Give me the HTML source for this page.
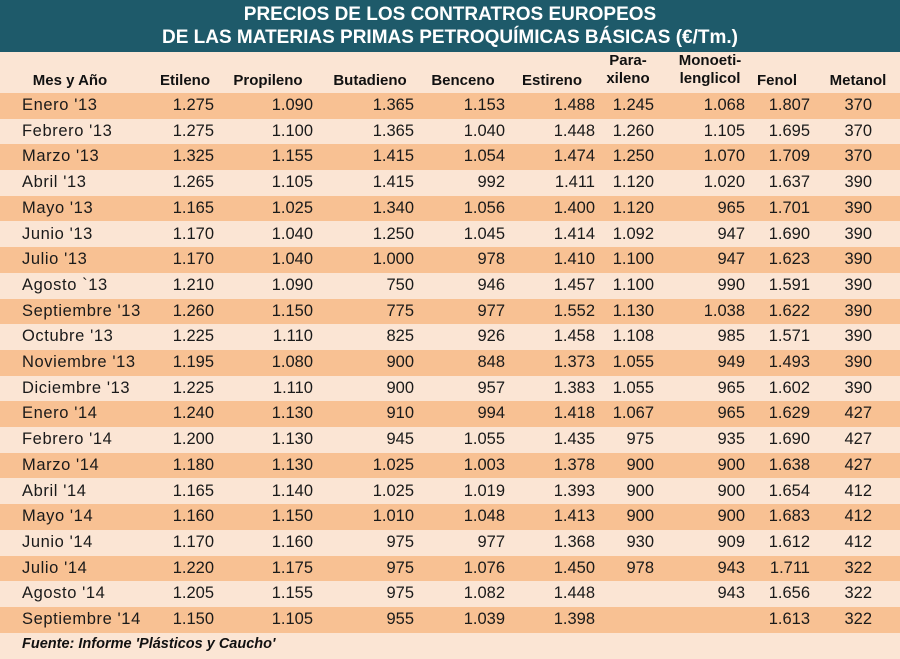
<!DOCTYPE html>
<html><head><meta charset="utf-8"><style>
body{margin:0;width:900px;height:659px;background:#fbe5d4;font-family:"Liberation Sans",sans-serif;position:relative;overflow:hidden}
.t{position:absolute;left:0;top:0;width:900px;height:52px;background:#1e5a6a;color:#fff;font-weight:bold;font-size:19px;text-align:center;line-height:23px;padding-top:3px;box-sizing:border-box}
.h{position:absolute;font-weight:bold;font-size:15px;color:#111;text-align:center;line-height:18px}
.r{position:absolute;left:0;width:900px;height:25.7px;font-size:16.5px;color:#1a1a1a}
.o{background:#f8c193}
.r span{position:absolute;top:3px;text-align:right;width:90px}
.r span.m{left:22px;text-align:left;width:200px;letter-spacing:0.6px}
.a{left:124px}.b{left:223px}.c{left:324px}.d{left:415px}.e{left:505px}.f{left:564px}.g{left:655px}.k{left:720px}.l{left:782px}
.ft{position:absolute;left:22px;top:636px;font-size:14.5px;font-weight:bold;font-style:italic;color:#111}
</style></head><body>
<div class="t">PRECIOS DE LOS CONTRATROS EUROPEOS<br>DE LAS MATERIAS PRIMAS PETROQUÍMICAS BÁSICAS (€/Tm.)</div>
<div class="h" style="left:20px;top:72px;width:100px">Mes y Año</div>
<div class="h" style="left:145px;top:72px;width:80px">Etileno</div>
<div class="h" style="left:228px;top:72px;width:80px">Propileno</div>
<div class="h" style="left:325px;top:72px;width:90px">Butadieno</div>
<div class="h" style="left:423px;top:72px;width:80px">Benceno</div>
<div class="h" style="left:512px;top:72px;width:80px">Estireno</div>
<div class="h" style="left:595px;top:52px;width:66px">Para-<br>xileno</div>
<div class="h" style="left:662px;top:52px;width:96px">Monoeti-<br>lenglicol</div>
<div class="h" style="left:747px;top:72px;width:60px">Fenol</div>
<div class="h" style="left:820px;top:72px;width:76px">Metanol</div>

<div class="r o" style="top:93px"><span class="m">Enero '13</span><span class="a">1.275</span><span class="b">1.090</span><span class="c">1.365</span><span class="d">1.153</span><span class="e">1.488</span><span class="f">1.245</span><span class="g">1.068</span><span class="k">1.807</span><span class="l">370</span></div>
<div class="r" style="top:118.7px"><span class="m">Febrero '13</span><span class="a">1.275</span><span class="b">1.100</span><span class="c">1.365</span><span class="d">1.040</span><span class="e">1.448</span><span class="f">1.260</span><span class="g">1.105</span><span class="k">1.695</span><span class="l">370</span></div>
<div class="r o" style="top:144.4px"><span class="m">Marzo '13</span><span class="a">1.325</span><span class="b">1.155</span><span class="c">1.415</span><span class="d">1.054</span><span class="e">1.474</span><span class="f">1.250</span><span class="g">1.070</span><span class="k">1.709</span><span class="l">370</span></div>
<div class="r" style="top:170.1px"><span class="m">Abril '13</span><span class="a">1.265</span><span class="b">1.105</span><span class="c">1.415</span><span class="d">992</span><span class="e">1.411</span><span class="f">1.120</span><span class="g">1.020</span><span class="k">1.637</span><span class="l">390</span></div>
<div class="r o" style="top:195.8px"><span class="m">Mayo '13</span><span class="a">1.165</span><span class="b">1.025</span><span class="c">1.340</span><span class="d">1.056</span><span class="e">1.400</span><span class="f">1.120</span><span class="g">965</span><span class="k">1.701</span><span class="l">390</span></div>
<div class="r" style="top:221.5px"><span class="m">Junio '13</span><span class="a">1.170</span><span class="b">1.040</span><span class="c">1.250</span><span class="d">1.045</span><span class="e">1.414</span><span class="f">1.092</span><span class="g">947</span><span class="k">1.690</span><span class="l">390</span></div>
<div class="r o" style="top:247.2px"><span class="m">Julio '13</span><span class="a">1.170</span><span class="b">1.040</span><span class="c">1.000</span><span class="d">978</span><span class="e">1.410</span><span class="f">1.100</span><span class="g">947</span><span class="k">1.623</span><span class="l">390</span></div>
<div class="r" style="top:272.9px"><span class="m">Agosto `13</span><span class="a">1.210</span><span class="b">1.090</span><span class="c">750</span><span class="d">946</span><span class="e">1.457</span><span class="f">1.100</span><span class="g">990</span><span class="k">1.591</span><span class="l">390</span></div>
<div class="r o" style="top:298.6px"><span class="m">Septiembre '13</span><span class="a">1.260</span><span class="b">1.150</span><span class="c">775</span><span class="d">977</span><span class="e">1.552</span><span class="f">1.130</span><span class="g">1.038</span><span class="k">1.622</span><span class="l">390</span></div>
<div class="r" style="top:324.3px"><span class="m">Octubre '13</span><span class="a">1.225</span><span class="b">1.110</span><span class="c">825</span><span class="d">926</span><span class="e">1.458</span><span class="f">1.108</span><span class="g">985</span><span class="k">1.571</span><span class="l">390</span></div>
<div class="r o" style="top:350px"><span class="m">Noviembre '13</span><span class="a">1.195</span><span class="b">1.080</span><span class="c">900</span><span class="d">848</span><span class="e">1.373</span><span class="f">1.055</span><span class="g">949</span><span class="k">1.493</span><span class="l">390</span></div>
<div class="r" style="top:375.7px"><span class="m">Diciembre '13</span><span class="a">1.225</span><span class="b">1.110</span><span class="c">900</span><span class="d">957</span><span class="e">1.383</span><span class="f">1.055</span><span class="g">965</span><span class="k">1.602</span><span class="l">390</span></div>
<div class="r o" style="top:401.4px"><span class="m">Enero '14</span><span class="a">1.240</span><span class="b">1.130</span><span class="c">910</span><span class="d">994</span><span class="e">1.418</span><span class="f">1.067</span><span class="g">965</span><span class="k">1.629</span><span class="l">427</span></div>
<div class="r" style="top:427.1px"><span class="m">Febrero '14</span><span class="a">1.200</span><span class="b">1.130</span><span class="c">945</span><span class="d">1.055</span><span class="e">1.435</span><span class="f">975</span><span class="g">935</span><span class="k">1.690</span><span class="l">427</span></div>
<div class="r o" style="top:452.8px"><span class="m">Marzo '14</span><span class="a">1.180</span><span class="b">1.130</span><span class="c">1.025</span><span class="d">1.003</span><span class="e">1.378</span><span class="f">900</span><span class="g">900</span><span class="k">1.638</span><span class="l">427</span></div>
<div class="r" style="top:478.5px"><span class="m">Abril '14</span><span class="a">1.165</span><span class="b">1.140</span><span class="c">1.025</span><span class="d">1.019</span><span class="e">1.393</span><span class="f">900</span><span class="g">900</span><span class="k">1.654</span><span class="l">412</span></div>
<div class="r o" style="top:504.2px"><span class="m">Mayo '14</span><span class="a">1.160</span><span class="b">1.150</span><span class="c">1.010</span><span class="d">1.048</span><span class="e">1.413</span><span class="f">900</span><span class="g">900</span><span class="k">1.683</span><span class="l">412</span></div>
<div class="r" style="top:529.9px"><span class="m">Junio '14</span><span class="a">1.170</span><span class="b">1.160</span><span class="c">975</span><span class="d">977</span><span class="e">1.368</span><span class="f">930</span><span class="g">909</span><span class="k">1.612</span><span class="l">412</span></div>
<div class="r o" style="top:555.6px"><span class="m">Julio '14</span><span class="a">1.220</span><span class="b">1.175</span><span class="c">975</span><span class="d">1.076</span><span class="e">1.450</span><span class="f">978</span><span class="g">943</span><span class="k">1.711</span><span class="l">322</span></div>
<div class="r" style="top:581.3px"><span class="m">Agosto '14</span><span class="a">1.205</span><span class="b">1.155</span><span class="c">975</span><span class="d">1.082</span><span class="e">1.448</span><span class="g">943</span><span class="k">1.656</span><span class="l">322</span></div>
<div class="r o" style="top:607px"><span class="m">Septiembre '14</span><span class="a">1.150</span><span class="b">1.105</span><span class="c">955</span><span class="d">1.039</span><span class="e">1.398</span><span class="k">1.613</span><span class="l">322</span></div>
<div class="ft">Fuente: Informe 'Plásticos y Caucho'</div>
</body></html>
